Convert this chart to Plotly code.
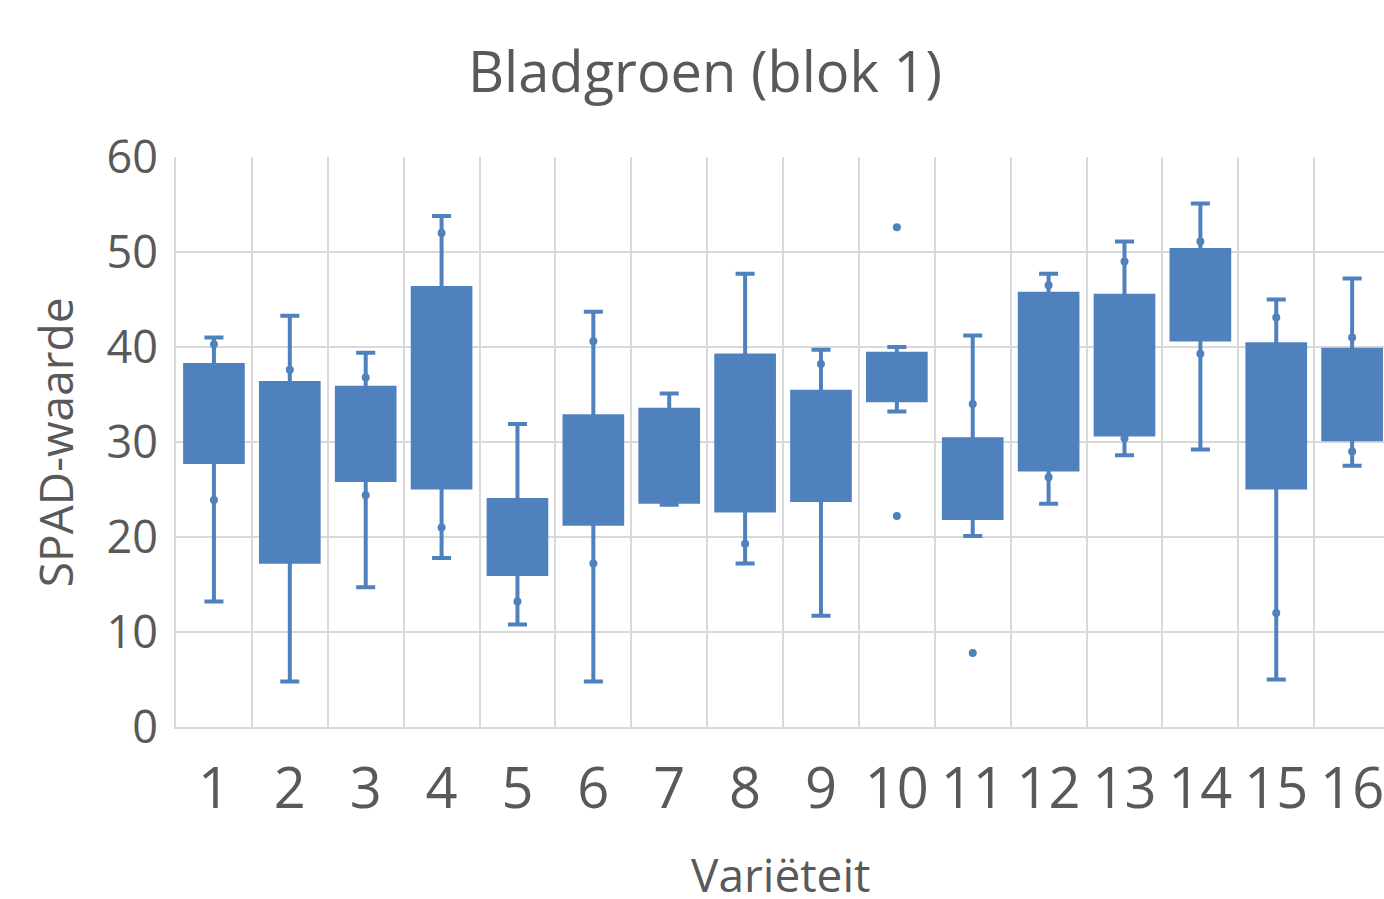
import plotly.graph_objects as go

# === Datos ===
variedades = list(range(1, 17))
minimo = [13.2, 4.8, 14.7, 17.8, 10.8, 4.8, 23.4, 17.2, 11.7, 33.2, 20.1, 23.5, 28.6, 29.2, 5.0, 27.5]
q1 = [27.9, 17.4, 26.0, 25.2, 16.1, 21.4, 23.7, 22.8, 23.9, 34.4, 22.0, 27.1, 30.8, 40.8, 25.2, 30.3]
mediana = [33.2, 26.5, 29.0, 31.7, 18.0, 28.6, 27.5, 32.4, 28.6, 35.1, 25.8, 35.9, 40.0, 46.2, 37.8, 35.3]
q3 = [38.1, 36.2, 35.7, 46.2, 23.9, 32.7, 33.4, 39.1, 35.3, 39.3, 30.3, 45.6, 45.4, 50.2, 40.3, 39.7]
maximo = [41.0, 43.3, 39.4, 53.8, 31.9, 43.7, 35.1, 47.7, 39.7, 40.0, 41.2, 47.7, 51.1, 55.1, 45.0, 47.2]

# puntos individuales visibles (incl. valores atípicos)
punto_var = [1, 1, 2, 3, 3, 4, 4, 5, 6, 6, 8, 9, 10, 10, 11, 11, 12, 12, 13, 13, 14, 14, 15, 15, 16, 16]
punto_val = [40.3, 23.9, 37.6, 36.8, 24.4, 52.0, 21.0, 13.2, 40.6, 17.2, 19.3, 38.2, 52.6, 22.2,
             34.0, 7.8, 46.5, 26.3, 49.0, 30.4, 51.1, 39.3, 43.1, 12.0, 41.0, 29.0]

y_ticks = [0, 10, 20, 30, 40, 50, 60]

BLUE = "#4F81BD"
TXT = "#595959"
GRID = "#D9D9D9"
FONT = "Open Sans, sans-serif"

W, H = 1384, 899

fig = go.Figure()
fig.add_trace(go.Box(
    x=variedades, q1=q1, median=mediana, q3=q3,
    lowerfence=minimo, upperfence=maximo,
    boxpoints=False, width=0.76, whiskerwidth=0.33,
    fillcolor=BLUE, line=dict(color=BLUE, width=4),
    hoverinfo="skip", showlegend=False,
))
fig.add_trace(go.Scatter(
    x=punto_var, y=punto_val, mode="markers",
    marker=dict(color=BLUE, size=8),
    hoverinfo="skip", showlegend=False,
))

fig.update_layout(
    width=W, height=H,
    paper_bgcolor="white", plot_bgcolor="white",
    margin=dict(l=176, r=0, t=157, b=H - 727),
    font=dict(family=FONT, color=TXT),
    title=dict(text="Bladgroen (blok 1)", x=705 / W, xref="container", xanchor="center",
               y=1 - 72 / H, yref="container", yanchor="middle",
               font=dict(size=56, color=TXT, family=FONT)),
    xaxis=dict(range=[0.5, 16.42], tickvals=variedades, ticktext=[str(v) for v in variedades],
               showgrid=False, zeroline=False, ticklabeloverflow="allow",
               minor=dict(tick0=0.5, dtick=1, showgrid=True, gridcolor=GRID, gridwidth=2),
               showline=True, linecolor=GRID, linewidth=2,
               ticks="outside", ticklen=12, tickcolor="rgba(0,0,0,0)",
               tickfont=dict(size=56, color=TXT)),
    yaxis=dict(range=[0, 60], tickvals=y_ticks, showgrid=True, gridcolor=GRID, gridwidth=2,
               zeroline=False, showline=True, linecolor=GRID, linewidth=2,
               ticks="outside", ticklen=7, tickcolor="rgba(0,0,0,0)",
               tickfont=dict(size=45, color=TXT)),
    annotations=[
        dict(text="Variëteit", x=0.5, xref="paper", y=-0.258, yref="paper",
             xanchor="center", yanchor="middle", showarrow=False,
             font=dict(size=46, color=TXT)),
        dict(text="SPAD-waarde", x=-0.1, xref="paper", y=0.5, yref="paper",
             xanchor="center", yanchor="middle", showarrow=False, textangle=-90,
             font=dict(size=46, color=TXT)),
    ],
)

# sin margen en el body para que la figura ocupe exactamente la ventana
fig.write_html("out.html", config={"displayModeBar": False},
               post_script="document.body.style.margin='0';")
